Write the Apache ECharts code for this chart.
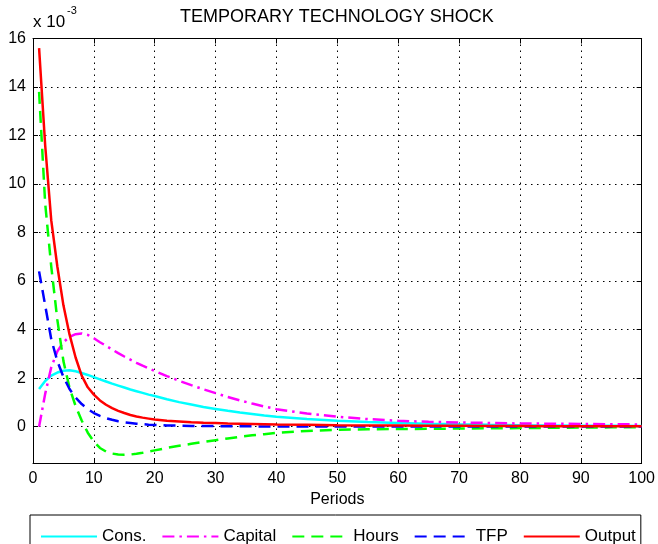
<!DOCTYPE html>
<html>
<head>
<meta charset="utf-8">
<script src="https://cdn.jsdelivr.net/npm/echarts@6/dist/echarts.min.js"></script>
<style>
  html, body { margin: 0; padding: 0; background: #fff; }
  #chart { width: 658px; height: 544px; }
</style>
</head>
<body>
<div id="chart"></div>
<script>
// Impulse responses to a temporary technology shock (values in units of 1e-3)
const periods = [1,2,3,4,5,6,7,8,9,10,11,12,13,14,15,16,17,18,19,20,
                 22,24,26,28,30,32,34,36,38,40,45,50,55,60,65,70,75,80,85,90,95,100];

const cons = [1.55,1.88,2.10,2.23,2.30,2.32,2.28,2.21,2.13,2.04,1.95,1.86,1.77,1.69,1.61,1.53,1.46,1.39,1.32,1.26,
              1.13,1.01,0.91,0.81,0.73,0.65,0.58,0.52,0.46,0.41,0.31,0.24,0.19,0.15,0.12,0.095,0.075,0.06,0.05,0.04,0.035,0.03];

const capital = [0,1.35,2.45,3.10,3.48,3.70,3.81,3.84,3.78,3.64,3.48,3.33,3.18,3.03,2.89,2.76,2.63,2.51,2.40,2.29,
                 2.08,1.89,1.71,1.54,1.38,1.22,1.08,0.95,0.83,0.72,0.54,0.41,0.31,0.24,0.20,0.17,0.15,0.13,0.12,0.11,0.10,0.09];

const hours = [13.8,9.2,6.6,4.4,2.7,1.6,0.85,0.25,-0.25,-0.62,-0.88,-1.03,-1.11,-1.15,-1.16,-1.15,-1.12,-1.08,-1.03,-0.98,
               -0.88,-0.79,-0.71,-0.63,-0.56,-0.49,-0.42,-0.36,-0.31,-0.26,-0.18,-0.13,-0.11,-0.10,-0.09,-0.08,-0.07,-0.06,-0.05,-0.04,-0.03,-0.03];

const tfp = [6.4,5.0,3.6,2.7,2.05,1.55,1.2,0.93,0.72,0.56,0.44,0.35,0.28,0.22,0.18,0.15,0.12,0.10,0.08,0.07,
             0.05,0.04,0.03,0.025,0.02,0.015,0.012,0.01,0.008,0.006,0.004,0.003,0.002,0.001,0.001,0,0,0,0,0,0,0];

const output = [15.6,11.6,8.5,6.6,5.0,3.8,2.85,2.1,1.62,1.32,1.08,0.9,0.76,0.65,0.56,0.48,0.42,0.37,0.33,0.29,
                0.24,0.21,0.18,0.16,0.15,0.13,0.12,0.11,0.10,0.09,0.075,0.06,0.05,0.045,0.04,0.035,0.03,0.025,0.02,0.02,0.015,0.01];

const yTicks = [0,2,4,6,8,10,12,14,16];

const FONT = "'Liberation Sans', Arial, sans-serif";

const chart = echarts.init(document.getElementById('chart'), null, { renderer: 'canvas' });

function pairs(vals) { return periods.map((p, i) => [p, vals[i]]); }

function lineSeries(name, vals, color, dash) {
  return {
    name: name,
    type: 'line',
    data: pairs(vals),
    symbol: 'none',
    smooth: false,
    animation: false,
    lineStyle: { color: color, width: 2.5, type: dash },
    itemStyle: { color: color },
    emphasis: { disabled: true }
  };
}

const dotted = { color: '#000', width: 1, type: [1.5, 4.5] };

const baseX = {
  type: 'value', min: 0, max: 100, interval: 10,
  axisLine: { show: true, onZero: false, lineStyle: { color: '#000', width: 1 } },
  axisTick: { show: true, inside: true, length: 5, lineStyle: { color: '#000' } }
};
const baseY = {
  type: 'value', min: -1.5, max: 16,
  axisLine: { show: true, onZero: false, lineStyle: { color: '#000', width: 1 } },
  axisTick: { show: true, inside: true, length: 5, customValues: yTicks, lineStyle: { color: '#000' } }
};

chart.setOption({
  animation: false,
  backgroundColor: '#fff',
  grid: { left: 33, right: 16, top: 38.5, bottom: 81, containLabel: false },
  xAxis: [
    Object.assign({}, baseX, {
      position: 'bottom',
      name: 'Periods', nameLocation: 'middle', nameGap: 28,
      nameTextStyle: { color: '#000', fontSize: 16, fontFamily: FONT },
      axisLabel: { color: '#000', fontSize: 16, fontFamily: FONT, margin: 8 },
      splitLine: { show: true, lineStyle: dotted }
    }),
    Object.assign({}, baseX, {
      position: 'top',
      axisLabel: { show: false },
      splitLine: { show: false }
    })
  ],
  yAxis: [
    Object.assign({}, baseY, {
      position: 'left',
      axisLabel: { color: '#000', fontSize: 16, fontFamily: FONT, margin: 7, customValues: yTicks },
      splitLine: { show: true, lineStyle: dotted }
    }),
    Object.assign({}, baseY, {
      position: 'right',
      axisLabel: { show: false },
      splitLine: { show: false }
    })
  ],
  legend: {
    left: 30, top: 515,
    orient: 'horizontal',
    itemWidth: 56, itemHeight: 14, itemGap: 15,
    padding: [13, 5, 13, 10],
    borderColor: '#000', borderWidth: 1,
    backgroundColor: '#fff',
    itemStyle: { opacity: 0 },
    textStyle: { color: '#000', fontSize: 17, fontFamily: FONT },
    data: ['Cons.', 'Capital', 'Hours', 'TFP', 'Output']
  },
  graphic: [
    {
      type: 'text', left: 180, top: 8,
      style: { text: 'TEMPORARY TECHNOLOGY SHOCK', fill: '#000', font: '18px ' + FONT }
    },
    {
      type: 'text', left: 33, top: 14,
      style: { text: 'x 10', fill: '#000', font: '17px ' + FONT }
    },
    {
      type: 'text', left: 67, top: 5,
      style: { text: '-3', fill: '#000', font: '11px ' + FONT }
    }
  ],
  series: [
    lineSeries('Cons.', cons, '#00FFFF', 'solid'),
    lineSeries('Capital', capital, '#FF00FF', [12, 5, 2.5, 5]),
    lineSeries('Hours', hours, '#00FF00', [12, 7]),
    lineSeries('TFP', tfp, '#0000FF', [12, 7]),
    lineSeries('Output', output, '#FF0000', 'solid')
  ]
});
</script>
</body>
</html>
